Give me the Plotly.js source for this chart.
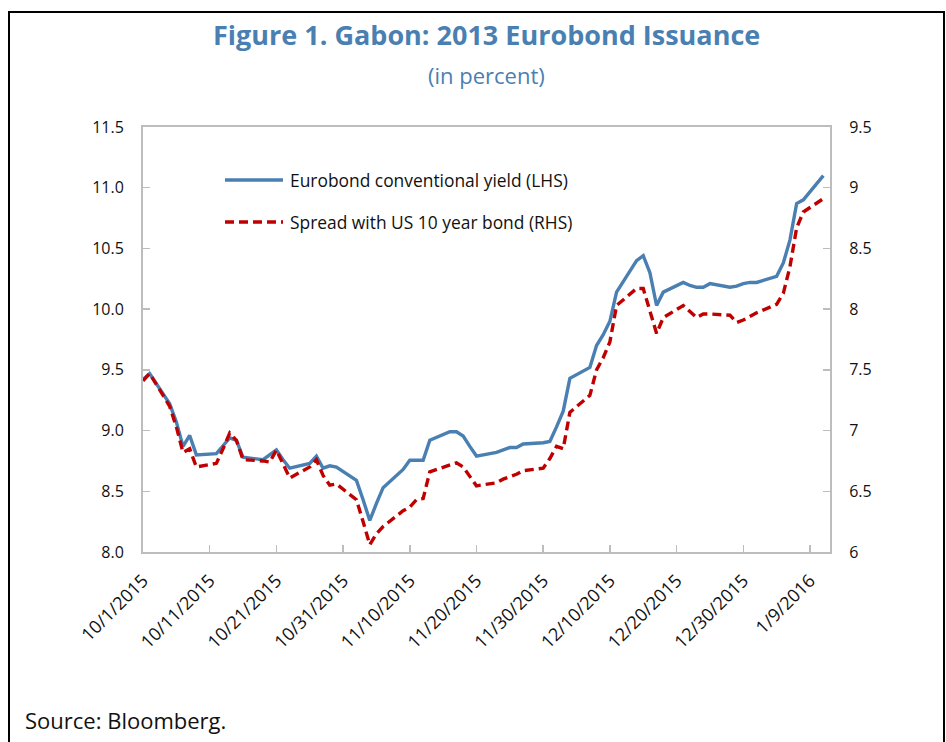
<!DOCTYPE html>
<html>
<head>
<meta charset="utf-8">
<script src="https://cdn.plot.ly/plotly-3.0.1.min.js"></script>
<style>
html,body{margin:0;padding:0;background:#fff;}
#chart{width:946px;height:742px;}
</style>
</head>
<body>
<div id="chart"></div>
<script>
// ---- Data ----
const dates = [
 '2015-10-01','2015-10-02','2015-10-05','2015-10-06','2015-10-07','2015-10-08','2015-10-09',
 '2015-10-12','2015-10-13','2015-10-14','2015-10-15','2015-10-16',
 '2015-10-19','2015-10-20','2015-10-21','2015-10-22','2015-10-23',
 '2015-10-26','2015-10-27','2015-10-28','2015-10-29','2015-10-30',
 '2015-11-02','2015-11-03','2015-11-04','2015-11-05','2015-11-06',
 '2015-11-09','2015-11-10','2015-11-11','2015-11-12','2015-11-13',
 '2015-11-16','2015-11-17','2015-11-18','2015-11-19','2015-11-20',
 '2015-11-23','2015-11-24','2015-11-25','2015-11-26','2015-11-27',
 '2015-11-30','2015-12-01','2015-12-02','2015-12-03','2015-12-04',
 '2015-12-07','2015-12-08','2015-12-09','2015-12-10','2015-12-11',
 '2015-12-14','2015-12-15','2015-12-16','2015-12-17','2015-12-18',
 '2015-12-21','2015-12-22','2015-12-23','2015-12-24','2015-12-25',
 '2015-12-28','2015-12-29','2015-12-30','2015-12-31','2016-01-01',
 '2016-01-04','2016-01-05','2016-01-06','2016-01-07','2016-01-08',
 '2016-01-11'
];
const eurobondYield = [
 9.42,9.47,9.22,9.07,8.87,8.96,8.80,
 8.81,8.875,8.94,8.92,8.78,
 8.76,8.80,8.84,8.76,8.69,
 8.73,8.79,8.69,8.71,8.70,
 8.59,8.43,8.26,8.40,8.53,
 8.68,8.755,8.755,8.755,8.92,
 8.99,8.99,8.955,8.87,8.79,
 8.82,8.84,8.86,8.86,8.89,
 8.90,8.91,9.03,9.16,9.43,
 9.52,9.70,9.79,9.90,10.14,
 10.40,10.44,10.30,10.03,10.14,
 10.22,10.195,10.18,10.18,10.21,
 10.18,10.19,10.21,10.22,10.22,
 10.27,10.38,10.57,10.87,10.90,
 11.10
];
const usSpread = [
 7.41,7.47,7.20,7.03,6.82,6.85,6.70,
 6.73,6.85,6.98,6.92,6.76,
 6.75,6.74,6.84,6.72,6.61,
 6.70,6.76,6.63,6.55,6.56,
 6.43,6.25,6.06,6.15,6.21,
 6.34,6.37,6.43,6.44,6.66,
 6.72,6.735,6.70,6.62,6.545,
 6.57,6.60,6.62,6.64,6.67,
 6.69,6.77,6.87,6.85,7.15,
 7.29,7.50,7.60,7.73,8.03,
 8.17,8.17,7.98,7.80,7.93,
 8.03,7.98,7.93,7.96,7.96,
 7.95,7.89,7.91,7.94,7.97,
 8.04,8.13,8.35,8.67,8.80,
 8.91
];
const xTickVals = ['2015-10-01','2015-10-11','2015-10-21','2015-10-31','2015-11-10','2015-11-20',
 '2015-11-30','2015-12-10','2015-12-20','2015-12-30','2016-01-09'];
const xTickText = ['10/1/2015','10/11/2015','10/21/2015','10/31/2015','11/10/2015','11/20/2015',
 '11/30/2015','12/10/2015','12/20/2015','12/30/2015','1/9/2016'];
const seriesNames = ['Eurobond conventional yield (LHS)','Spread with US 10 year bond (RHS)'];

// ---- Styling ----
const FONT = 'Open Sans, DejaVu Sans, sans-serif';
const BLUE = '#4a7fb2';
const RED = '#c00000';
const AXIS = '#bdbdbd';
const TITLEC = '#4a7fb2';

const traces = [
 {x: dates, y: eurobondYield, type:'scatter', mode:'lines', name: seriesNames[0],
  line:{color:BLUE, width:3.4}, yaxis:'y', showlegend:false},
 {x: dates, y: usSpread, type:'scatter', mode:'lines', name: seriesNames[1],
  line:{color:RED, width:3.4, dash:'9px,5px'}, yaxis:'y2', showlegend:false}
];

// pixel -> paper helpers (plot area 143..830 x, 127..552 y)
const L=143, R=830, T=127, B=552;
const px = v => (v-L)/(R-L);
const py = v => (B-v)/(B-T);

const layout = {
 width:946, height:742,
 margin:{l:L, r:946-R, t:T, b:742-B, pad:0},
 paper_bgcolor:'#fff', plot_bgcolor:'#fff',
 font:{family:FONT, size:16, color:'#111'},
 showlegend:false,
 xaxis:{
  type:'date', range:['2015-10-01','2016-01-12'],
  tickmode:'array', tickvals:xTickVals, ticktext:xTickText,
  tickangle:-45, ticks:'inside', ticklen:7, tickwidth:1.5, tickcolor:AXIS,
  showline:true, linecolor:AXIS, linewidth:2, mirror:true,
  showgrid:false, zeroline:false,
  tickfont:{family:FONT, size:18, color:'#111'},
  ticklabelstandoff:9
 },
 yaxis:{
  range:[8,11.5], dtick:0.5, tick0:8, tickformat:'.1f',
  ticks:'inside', ticklen:7, tickwidth:1.5, tickcolor:AXIS,
  showline:true, linecolor:AXIS, linewidth:2,
  showgrid:false, zeroline:false,
  tickfont:{family:FONT, size:16, color:'#111'},
  ticklabelstandoff:14
 },
 yaxis2:{
  range:[6,9.5], dtick:0.5, tick0:6,
  overlaying:'y', side:'right',
  ticks:'inside', ticklen:7, tickwidth:1.5, tickcolor:AXIS,
  showline:true, linecolor:AXIS, linewidth:2,
  showgrid:false, zeroline:false,
  tickfont:{family:FONT, size:16, color:'#111'},
  ticklabelstandoff:14
 },
 shapes:[
  // outer frame
  {type:'rect', xref:'paper', yref:'paper', x0:px(9), x1:px(944), y0:py(760), y1:py(12),
   line:{color:'#000', width:2}, fillcolor:'rgba(0,0,0,0)'},
  // legend samples
  {type:'line', xref:'paper', yref:'paper', x0:px(225), x1:px(283), y0:py(180), y1:py(180),
   line:{color:BLUE, width:3.4}},
  {type:'line', xref:'paper', yref:'paper', x0:px(225), x1:px(283), y0:py(222), y1:py(222),
   line:{color:RED, width:3.4, dash:'9px,5px'}}
 ],
 annotations:[
  {text:'<b>Figure 1. Gabon: 2013 Eurobond Issuance</b>', xref:'paper', yref:'paper',
   x:0.5, y:py(35), xanchor:'center', yanchor:'middle', showarrow:false,
   font:{family:FONT, size:27, color:TITLEC}},
  {text:'(in percent)', xref:'paper', yref:'paper',
   x:0.5, y:py(75), xanchor:'center', yanchor:'middle', showarrow:false,
   font:{family:FONT, size:22, color:TITLEC}},
  {text:seriesNames[0], xref:'paper', yref:'paper', x:px(288), y:py(180),
   xanchor:'left', yanchor:'middle', showarrow:false, font:{family:FONT, size:17.4, color:'#111'}},
  {text:seriesNames[1], xref:'paper', yref:'paper', x:px(288), y:py(222),
   xanchor:'left', yanchor:'middle', showarrow:false, font:{family:FONT, size:17.4, color:'#111'}},
  {text:'Source: Bloomberg.', xref:'paper', yref:'paper', x:px(23), y:py(720),
   xanchor:'left', yanchor:'middle', showarrow:false, font:{family:FONT, size:22, color:'#111'}}
 ]
};

Plotly.newPlot('chart', traces, layout, {displayModeBar:false, staticPlot:true});
</script>
</body>
</html>
